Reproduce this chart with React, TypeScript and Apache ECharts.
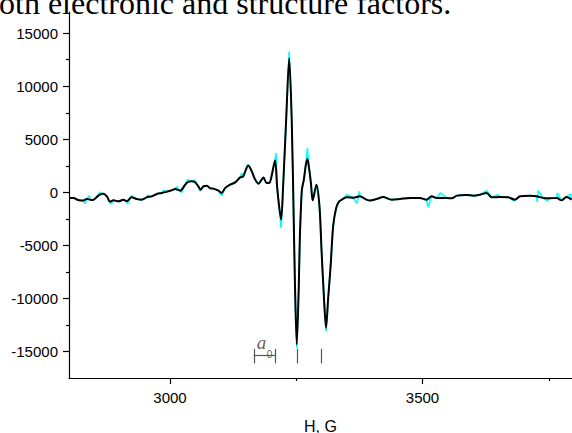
import React, { useEffect, useRef } from 'react';
import * as echarts from 'echarts';

// Magnetic field, G (x) and fitted (smoothed) EPR signal (black curve)
const fieldG = [
  2800, 2809, 2818, 2828, 2835, 2842, 2848, 2855, 2861, 2868, 2875, 2881, 2888, 2898, 2908, 2914,
  2924, 2934, 2944, 2954, 2964, 2974, 2984, 2993, 3003, 3010, 3020, 3030, 3036, 3043, 3049, 3056,
  3061, 3066, 3073, 3079, 3086, 3096, 3102, 3109, 3119, 3129, 3139, 3145, 3155, 3162, 3168, 3175,
  3185, 3191, 3197, 3201, 3208, 3212, 3216, 3220, 3224, 3230, 3236, 3241, 3245, 3247.5, 3251, 3255,
  3257, 3261, 3265, 3269, 3272, 3275, 3279, 3282.5, 3290, 3296, 3300, 3305, 3309, 3313, 3318, 3323,
  3329, 3335, 3343, 3350, 3363, 3376, 3389, 3396, 3409, 3422, 3439, 3455, 3475, 3495, 3508, 3518,
  3528, 3548, 3558, 3568, 3587, 3601, 3614, 3627, 3637, 3653, 3670, 3683, 3693, 3713, 3726, 3739,
  3752, 3766, 3775, 3785, 3795,
];
const fitted = [
  -530, -530, -720, -780, -625, -700, -720, -440, -220, -125, -375, -880, -750, -850, -690, -850,
  -470, -625, -690, -470, -375, -150, -60, 60, 190, 310, 160, 720, 980, 1040, 980, 570,
  250, 570, 630, 400, 350, 160, -60, 400, 720, 940, 1410, 1510, 2540, 1980, 1260, 820,
  1410, 885, 900, 1510, 3010, 570, -1300, -2570, 570, 6850, 12650, 6850, -2570, -8850, -14340, -8850,
  -4450, 200, 1200, 2600, 3140, 2400, 885, -750, 725, -1320, -5400, -10100, -12770, -10100, -6970, -3200,
  -1470, -850, -600, -470, -500, -375, -690, -780, -630, -440, -690, -630, -530, -530, -690, -375,
  -530, -530, -560, -310, -250, -310, -220, -60, -470, -440, -470, -690, -375, -310, -375, -530,
  -560, -530, -750, -440, -690,
];

// Raw (noisy) signal: points where the cyan trace departs from the fitted one
const rawG = [
  2832, 2840, 2861, 2883, 2916, 2924, 2955, 2987, 3013, 3023, 3035, 3040, 3049, 3059, 3102, 3142,
  3153, 3210, 3220, 3236, 3251, 3272, 3309, 3350, 3370, 3375, 3511, 3535, 3627, 3650, 3680, 3727,
  3729, 3747, 3767, 3793,
];
const rawV = [
  -1060, -310, 0, -1100, -1060, -310, -270, 190, 540, 0, 1250, 1100, 1150, 160, -310, 1830,
  2600, 3710, -3350, 13280, -14700, 4180, -13090, -220, -1060, 100, -1380, -60, 160, -220, -780, -900,
  160, -780, -60, -150,
];

// Axis ticks
const yLabelValues = [-15000, -10000, -5000, 0, 5000, 10000, 15000];
const yMinorValues = [-12500, -7500, -2500, 2500, 7500, 12500];
const xLabelValues = [3000, 3500];
const xMinorValues = [3250, 3750];

// Hyperfine markers (field positions, G)
const bracketG = [3166, 3208];
const lineMarkG = [3251, 3299];
const markTop = -14750;
const markBottom = -16130;
const bracketLevel = -15400;
const annotTexts = ['a', '0'];
const annotPos = [[3181, -14150], [3197, -15320]];

const headerText = 'oth electronic and structure factors.';
const xName = 'H, G';

export default function App() {
  const ref = useRef<HTMLDivElement>(null);
  useEffect(() => {
    if (!ref.current) return;
    const chart = echarts.init(ref.current, null, { renderer: 'svg' });

    const fittedData = fieldG.map((g, i) => [g, fitted[i]]);
    const rawMap = new Map<number, number>();
    fieldG.forEach((g, i) => rawMap.set(g, fitted[i]));
    rawG.forEach((g, i) => rawMap.set(g, rawV[i]));
    const rawData = Array.from(rawMap.entries()).sort((a, b) => a[0] - b[0]);

    const markColor = '#555';
    const segs: any[] = [];
    [...bracketG, ...lineMarkG].forEach((g) => {
      segs.push([{ coord: [g, markTop] }, { coord: [g, markBottom] }]);
    });
    segs.push([{ coord: [bracketG[0], bracketLevel] }, { coord: [bracketG[1], bracketLevel] }]);

    const font = 'Liberation Sans';
    const xMin = 2800;
    const xMax = 3796;
    const yMin = -17500;
    const yMax = 17000;
    const plain = (v: number) => String(v);

    chart.setOption({
      animation: false,
      backgroundColor: '#fff',
      grid: { left: 69, right: 0, top: 12, bottom: 55, containLabel: false, outerBoundsMode: 'none' },
      graphic: [
        {
          type: 'text',
          x: -1,
          y: 3,
          style: {
            text: headerText,
            fontFamily: 'Liberation Serif',
            fontSize: 32,
            fill: '#000',
            verticalAlign: 'middle',
            align: 'left',
          },
        },
      ],
      xAxis: [
        {
          type: 'value',
          min: xMin,
          max: xMax,
          position: 'bottom',
          axisLine: { show: true, onZero: false, lineStyle: { color: '#000', width: 1.2 } },
          axisTick: { show: true, customValues: xLabelValues, length: 6, lineStyle: { color: '#000', width: 1.2 } },
          axisLabel: { show: true, customValues: xLabelValues, formatter: plain, fontSize: 15, fontFamily: font, color: '#000', margin: 12 },
          splitLine: { show: false },
          name: xName,
          nameLocation: 'middle',
          nameGap: 40,
          nameTextStyle: { fontSize: 16, fontFamily: font, color: '#000' },
        },
        {
          type: 'value',
          min: xMin,
          max: xMax,
          position: 'bottom',
          axisLine: { show: false, onZero: false },
          axisTick: { show: true, customValues: xMinorValues, length: 3, lineStyle: { color: '#000', width: 1.2 } },
          axisLabel: { show: false },
          splitLine: { show: false },
        },
      ],
      yAxis: [
        {
          type: 'value',
          min: yMin,
          max: yMax,
          position: 'left',
          axisLine: { show: true, onZero: false, lineStyle: { color: '#000', width: 1.2 } },
          axisTick: { show: true, customValues: yLabelValues, length: 6, lineStyle: { color: '#000', width: 1.2 } },
          axisLabel: { show: true, customValues: yLabelValues, formatter: plain, fontSize: 15, fontFamily: font, color: '#000', margin: 11 },
          splitLine: { show: false },
        },
        {
          type: 'value',
          min: yMin,
          max: yMax,
          position: 'left',
          axisLine: { show: false, onZero: false },
          axisTick: { show: true, customValues: yMinorValues, length: 3, lineStyle: { color: '#000', width: 1.2 } },
          axisLabel: { show: false },
          splitLine: { show: false },
        },
      ],
      series: [
        {
          type: 'line',
          name: 'raw',
          data: rawData,
          showSymbol: false,
          symbol: 'none',
          lineStyle: { color: '#00FFFF', width: 1.6 },
          z: 1,
        },
        {
          type: 'line',
          name: 'fit',
          data: fittedData,
          showSymbol: false,
          symbol: 'none',
          smooth: 0.3,
          lineStyle: { color: '#000', width: 2 },
          z: 2,
        },
        {
          type: 'scatter',
          name: 'annot',
          symbolSize: 0,
          silent: true,
          data: [
            {
              value: annotPos[0],
              label: {
                show: true,
                position: 'inside',
                formatter: annotTexts[0],
                fontFamily: 'Liberation Serif',
                fontStyle: 'italic',
                fontSize: 19,
                color: '#333',
              },
            },
            {
              value: annotPos[1],
              label: {
                show: true,
                position: 'inside',
                formatter: annotTexts[1],
                fontFamily: font,
                fontSize: 10,
                color: '#333',
              },
            },
          ],
          markLine: {
            silent: true,
            symbol: ['none', 'none'],
            label: { show: false },
            lineStyle: { color: markColor, width: 1.2, type: 'solid' },
            data: segs,
          },
          z: 3,
        },
      ],
    });
    return () => chart.dispose();
  }, []);
  return (
    <div
      ref={ref}
      style={{ position: 'fixed', left: 0, top: 0, width: 572, height: 433 }}
    />
  );
}
